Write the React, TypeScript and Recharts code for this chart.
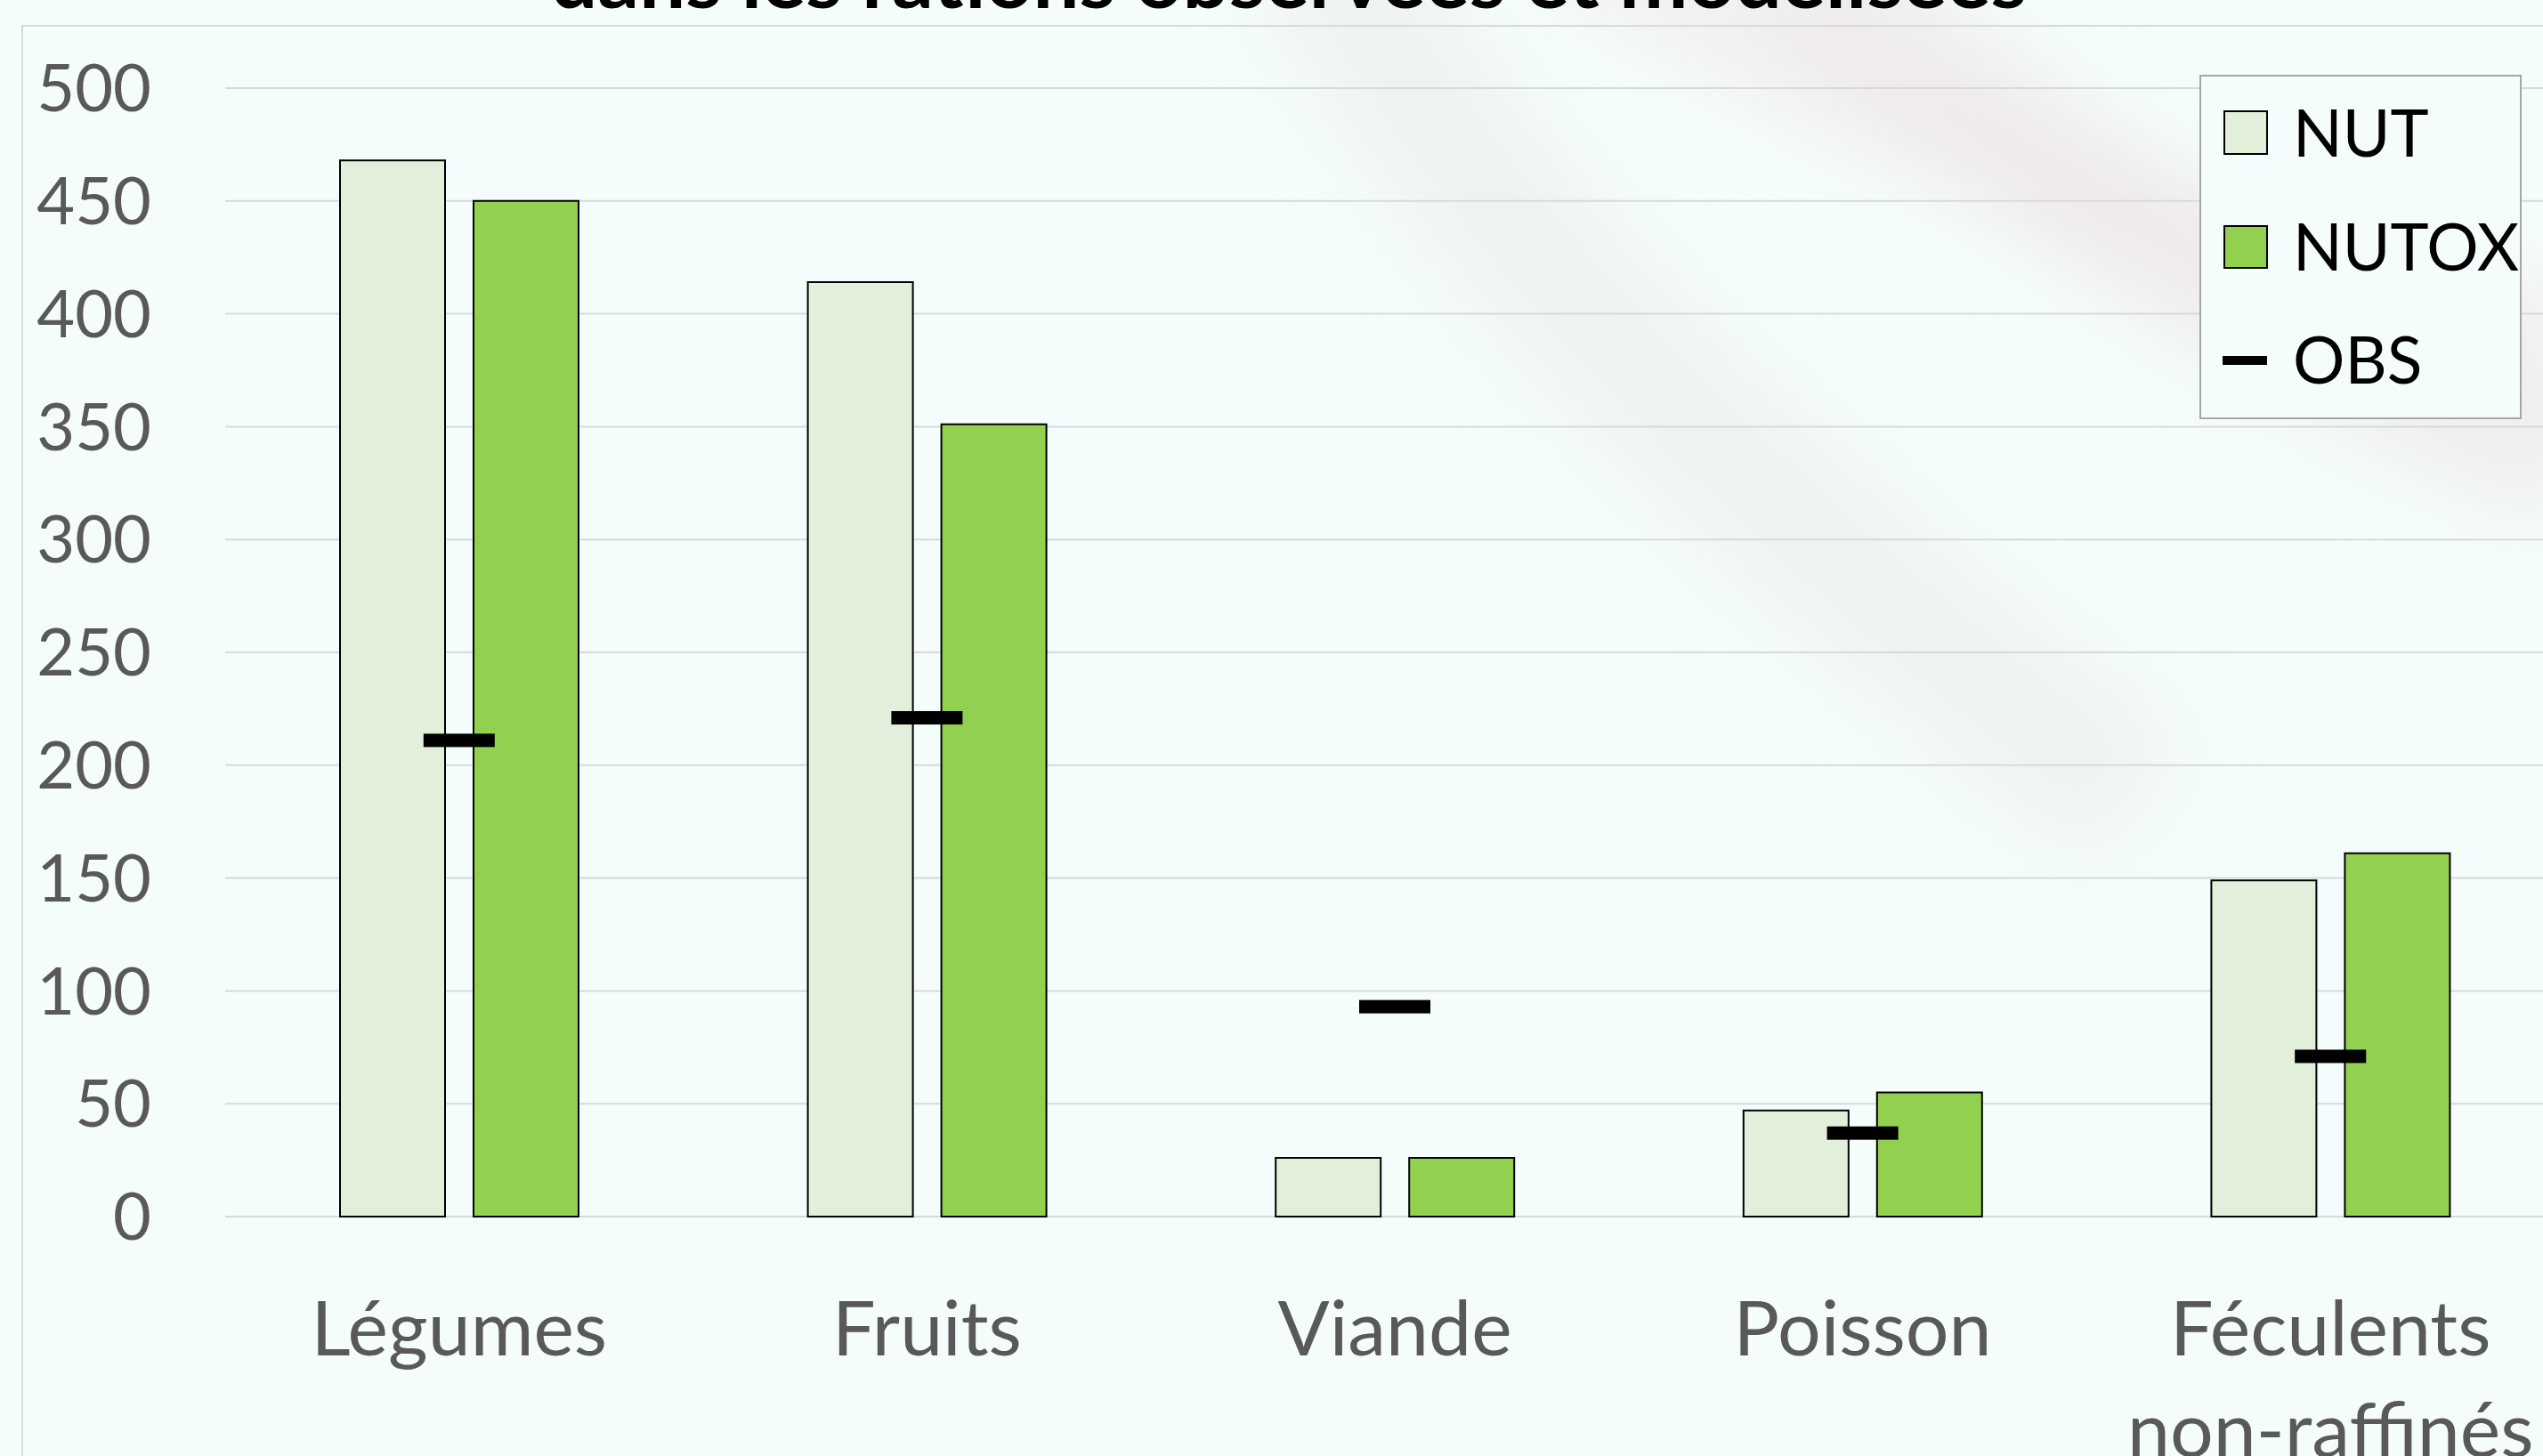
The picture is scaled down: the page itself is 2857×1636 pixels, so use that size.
import React from "react";
import {
  ComposedChart,
  Bar,
  Line,
  XAxis,
  YAxis,
  CartesianGrid,
  Legend,
} from "recharts";

const categories = [
  "Légumes",
  "Fruits",
  "Viande",
  "Poisson",
  "Féculents\nnon-raffinés",
];
const nutValues = [468, 414, 26, 47, 149];
const nutoxValues = [450, 351, 26, 55, 161];
const obsValues = [211, 221, 93, 37, 71];
const yTicks = [0, 50, 100, 150, 200, 250, 300, 350, 400, 450, 500];

const data = categories.map((name, i) => ({
  name,
  NUT: nutValues[i],
  NUTOX: nutoxValues[i],
  OBS: obsValues[i],
}));

const BG = "#f4fdfc";
const FONT = "Lato, 'Open Sans', sans-serif";

const CategoryTick = (props: any) => {
  const { x, y, payload } = props;
  const lines = String(payload.value).split("\n");
  return (
    <text
      x={x}
      y={y}
      textAnchor="middle"
      fill="#595959"
      fontSize={86}
      fontFamily={FONT}
    >
      {lines.map((l, i) => (
        <tspan key={i} x={x} dy={i === 0 ? 156 : 114}>
          {l}
        </tspan>
      ))}
    </text>
  );
};

const ObsMarker = (props: any) => {
  const { cx, cy, index } = props;
  if (cx == null || cy == null) return <g key={index} />;
  return <rect key={index} x={cx - 40} y={cy - 7.5} width={80} height={15} fill="#000" />;
};

const LegendBox = () => (
  <svg width={362} height={387} style={{ display: "block" }}>
    <rect x={1} y={1} width={360} height={385} fill={BG} stroke="#a6a6a6" strokeWidth={2} />
    <rect x={28} y={41} width={48} height={48} fill="#e2efda" stroke="#000" strokeWidth={2} />
    <text x={105} y={92} fontSize={73} fontFamily={FONT} fill="#000">
      NUT
    </text>
    <rect x={28} y={170} width={48} height={47} fill="#92d050" stroke="#000" strokeWidth={2} />
    <text x={105} y={220} fontSize={73} fontFamily={FONT} fill="#000">
      NUTOX
    </text>
    <rect x={26} y={316} width={50} height={10} fill="#000" />
    <text x={105} y={347} fontSize={73} fontFamily={FONT} fill="#000">
      OBS
    </text>
  </svg>
);

export default function App() {
  return (
    <div
      style={{
        position: "fixed",
        left: 0,
        top: 0,
        width: 2857,
        height: 1636,
        overflow: "hidden",
        background: BG,
      }}
    >
      {/* faint swooshes of the slide background */}
      <svg
        width={2857}
        height={1636}
        style={{ position: "absolute", left: 0, top: 0 }}
      >
        <defs>
          <filter id="blur" x="-20%" y="-20%" width="140%" height="140%">
            <feGaussianBlur stdDeviation="45" />
          </filter>
        </defs>
        <g filter="url(#blur)" fill="none">
          <path
            d="M 1480 -80 C 1650 250, 1950 560, 2400 900"
            stroke="#ececec"
            strokeOpacity={0.7}
            strokeWidth={170}
          />
          <path
            d="M 2000 -80 C 2250 180, 2550 380, 2900 520"
            stroke="#efeaeb"
            strokeOpacity={0.8}
            strokeWidth={150}
          />
          <path
            d="M 1750 -80 C 2050 120, 2450 280, 2900 380"
            stroke="#f0e2e5"
            strokeOpacity={0.6}
            strokeWidth={90}
          />
        </g>
        <text
          x={1448}
          y={9}
          textAnchor="middle"
          fontSize={88}
          fontWeight="bold"
          fontFamily={FONT}
          fill="#000"
          textLength={1658}
          lengthAdjust="spacingAndGlyphs"
        >
          dans les rations observées et modélisées
        </text>
      </svg>
      <div
        style={{
          position: "absolute",
          left: 24,
          top: 28,
          right: -10,
          bottom: -10,
          borderLeft: "2px solid #d9d9d9",
          borderTop: "2px solid #d9d9d9",
        }}
      />
      <div style={{ position: "absolute", left: 0, top: 0 }}>
        <ComposedChart
          width={2881}
          height={1636}
          data={data}
          margin={{ top: 99, right: 0, left: 0, bottom: 0 }}
          barGap={32}
        >
          <CartesianGrid vertical={false} stroke="#d9d9d9" strokeWidth={2} />
          <XAxis
            dataKey="name"
            axisLine={false}
            tickLine={false}
            tickSize={0}
            tickMargin={0}
            height={269}
            interval={0}
            tick={<CategoryTick />}
          />
          <YAxis
            domain={[0, 500]}
            ticks={yTicks}
            width={253}
            axisLine={false}
            tickLine={false}
            tickSize={0}
            tickMargin={83}
            tick={{ fill: "#595959", fontSize: 74, fontFamily: FONT }}
          />
          <Legend
            layout="vertical"
            align="center"
            verticalAlign="middle"
            content={() => <LegendBox />}
            wrapperStyle={{ left: 2471, top: 84, width: 362, height: 387 }}
          />
          <Bar
            dataKey="NUT"
            fill="#e2efda"
            stroke="#000"
            strokeWidth={2}
            barSize={118}
            isAnimationActive={false}
          />
          <Bar
            dataKey="NUTOX"
            fill="#92d050"
            stroke="#000"
            strokeWidth={2}
            barSize={118}
            isAnimationActive={false}
          />
          <Line
            dataKey="OBS"
            stroke="none"
            dot={<ObsMarker />}
            activeDot={false}
            isAnimationActive={false}
          />
        </ComposedChart>
      </div>
    </div>
  );
}
